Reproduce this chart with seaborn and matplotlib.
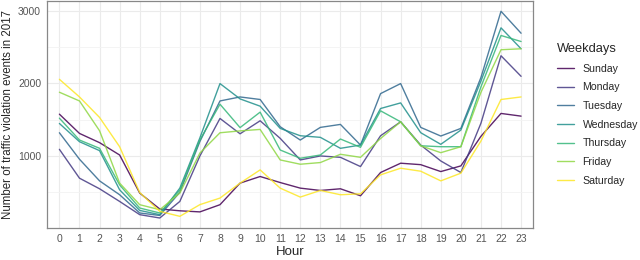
import numpy as np
import pandas as pd
import matplotlib
matplotlib.use('Agg')
import matplotlib.pyplot as plt
import seaborn as sns

hours = list(range(24))
weekdays = ['Sunday', 'Monday', 'Tuesday', 'Wednesday', 'Thursday', 'Friday', 'Saturday']

sunday = [1575, 1310, 1183, 1013, 489, 270, 245, 230, 329, 626, 717, 634,
          557, 525, 548, 452, 772, 900, 880, 785, 863, 1270, 1585, 1548]
monday = [1091, 694, 548, 374, 192, 146, 374, 1000, 1516, 1305, 1484, 1242,
          945, 1000, 981, 854, 1278, 1470, 1150, 931, 772, 1450, 2379, 2096]
tuesday = [1319, 955, 657, 466, 215, 181, 500, 1200, 1757, 1812, 1777, 1402,
           1219, 1393, 1434, 1150, 1858, 1996, 1393, 1274, 1379, 2080, 2991, 2689]
wednesday = [1447, 1196, 1073, 534, 250, 192, 557, 1250, 1996, 1785, 1685, 1379,
             1278, 1256, 1105, 1150, 1653, 1730, 1320, 1160, 1356, 2030, 2763, 2475]
thursday = [1520, 1219, 1105, 602, 283, 215, 530, 1220, 1712, 1390, 1603, 1082,
            968, 1013, 1233, 1119, 1621, 1470, 1140, 1127, 1127, 1950, 2658, 2575]
friday = [1877, 1757, 1347, 626, 329, 260, 489, 1040, 1319, 1345, 1365, 945,
          886, 909, 1023, 981, 1240, 1470, 1140, 1045, 1127, 1875, 2462, 2475]
saturday = [2055, 1812, 1530, 1127, 497, 237, 169, 330, 420, 626, 808, 557,
            434, 525, 466, 479, 740, 831, 790, 657, 763, 1205, 1777, 1812]

series = [sunday, monday, tuesday, wednesday, thursday, friday, saturday]
df = pd.DataFrame({
    'Hour': hours * len(weekdays),
    'count': [v for s in series for v in s],
    'Weekdays': [d for d in weekdays for _ in hours],
})

# ggplot-style viridis_d (endpoints included)
colors = ['#440154', '#443A83', '#31688E', '#21908C', '#35B779', '#8FD744', '#FDE725']

sns.set_style('white')
plt.rcParams['font.family'] = ['Liberation Sans', 'DejaVu Sans']

fig = plt.figure(figsize=(6.4, 2.6), dpi=100)
ax = fig.add_axes([0.074, 0.123, 0.759, 0.873])

palette = dict(zip(weekdays, colors))
sns.lineplot(data=df, x='Hour', y='count', hue='Weekdays', hue_order=weekdays,
             palette=palette, linewidth=1.0, alpha=0.85, ax=ax)

ax.set_xlim(-0.6, 23.6)
ax.set_ylim(8, 3132)
ax.set_xticks(hours)
ax.set_yticks([1000, 2000, 3000])
ax.set_yticks([500, 1500, 2500], minor=True)
ax.grid(True, which='major', color='#EBEBEB', linewidth=0.8)
ax.grid(True, which='minor', axis='y', color='#F3F3F3', linewidth=0.6)
ax.set_axisbelow(True)
for sp in ax.spines.values():
    sp.set_color('#888888')
    sp.set_linewidth(0.9)
ax.tick_params(axis='both', which='major', labelsize=7.5, colors='#555555',
               length=2.5, width=0.6, pad=2)
ax.tick_params(axis='y', which='minor', length=0)
ax.set_xlabel('Hour', fontsize=9.5, labelpad=1)
ax.set_ylabel('Number of traffic violation events in 2017', fontsize=8.3, labelpad=3)

leg = ax.legend(title='Weekdays', loc='upper left', bbox_to_anchor=(1.03, 0.855),
                frameon=False, fontsize=7.6, title_fontsize=9.3,
                handlelength=1.6, handletextpad=0.8, labelspacing=0.82)
leg._legend_box.align = 'left'
leg._legend_box.sep = 6

fig.savefig('out.png', dpi=100)
